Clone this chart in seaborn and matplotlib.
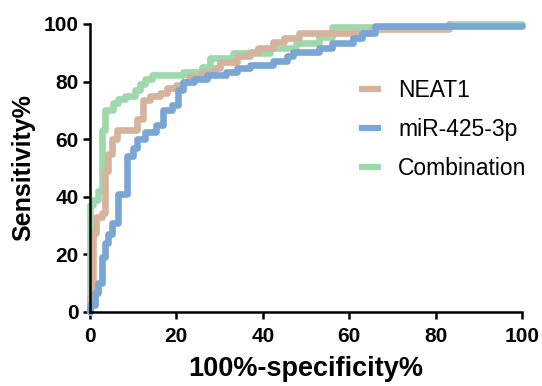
import pandas as pd
import matplotlib
matplotlib.use("Agg")
import matplotlib.pyplot as plt
import seaborn as sns

# ROC step vertices (steps-post): x = 100%-specificity%, y = sensitivity%
neat1_x = [0, 0, 0.8, 1.5, 2.7, 3.5, 4.2, 5, 6.2, 11, 12.3, 13.9, 16.2, 17.8, 20, 21.5,
           23, 26, 29, 30, 34, 37, 39, 42.3, 45, 48.5, 65, 83, 83]
neat1_y = [0, 5, 27.5, 33, 34.3, 49, 55, 60, 63, 67, 73.6, 75, 76, 77.7, 78.8, 80,
           81.7, 83.4, 84.7, 86.8, 89, 90.3, 91.6, 93.7, 95, 97, 98.2, 98.2, 100]

mir_x = [0, 0, 1.1, 1.9, 2.7, 3.5, 4.2, 5, 6.5, 8.5, 10, 11, 12.7, 15.4, 17, 19, 20.4,
         21.5, 24, 27, 31.6, 34, 37, 42.3, 45.5, 47, 53, 56, 61, 63, 66, 100]
mir_y = [0, 2.4, 6.5, 10, 19, 24, 27, 31, 41, 54, 57, 60, 62.5, 65, 70, 72, 77,
         80, 81, 82.3, 83.4, 84.7, 85.8, 87, 89, 90.3, 91.6, 93.4, 95, 96.9, 99.4, 99.4]

comb_x = [0, 0, 0.8, 1.9, 2.7, 3.5, 5.3, 6.5, 8, 10.4, 11.5, 12.7, 14.3, 21.5, 26, 27.7,
          33, 41.6, 47.8, 53, 56, 83, 100]
comb_y = [0, 37, 39, 42, 63, 70, 72.5, 74, 75, 77, 79, 81, 82.3, 83.4, 85, 88,
          90, 91.6, 93.4, 95.5, 98.8, 100, 100]

labels = ["NEAT1", "miR-425-3p", "Combination"]
colors = {"NEAT1": "#d5b39c", "miR-425-3p": "#7aa6d6", "Combination": "#9ed8ad"}

frames = []
for name, xs, ys in [("Combination", comb_x, comb_y), ("NEAT1", neat1_x, neat1_y),
                     ("miR-425-3p", mir_x, mir_y)]:
    frames.append(pd.DataFrame({"fpr": xs, "tpr": ys, "series": name}))
df = pd.concat(frames, ignore_index=True)

sns.set_style("ticks")
plt.rcParams["font.family"] = ["Liberation Sans", "DejaVu Sans"]
for key in ["text.color", "axes.labelcolor", "xtick.color", "ytick.color", "axes.edgecolor"]:
    plt.rcParams[key] = "black"

fig, ax = plt.subplots(figsize=(5.42, 3.86), dpi=100)
fig.subplots_adjust(left=0.166, right=0.963, bottom=0.192, top=0.938)

sns.lineplot(data=df, x="fpr", y="tpr", hue="series",
             hue_order=["Combination", "NEAT1", "miR-425-3p"],
             palette=colors, estimator=None, sort=False,
             drawstyle="steps-post", linewidth=4.8, ax=ax, clip_on=False)

ax.set_xlim(0, 100)
ax.set_ylim(0, 100)
ax.set_xticks(range(0, 101, 20))
ax.set_yticks(range(0, 101, 20))
sns.despine(ax=ax)
for side in ["left", "bottom"]:
    ax.spines[side].set_linewidth(1.8)
ax.tick_params(width=1.8, length=5, labelsize=15)
ax.tick_params(axis="x", pad=6)
ax.tick_params(axis="y", pad=3)
for lab in ax.get_xticklabels() + ax.get_yticklabels():
    lab.set_fontweight("bold")

ax.set_xlabel("100%-specificity%", fontsize=19.5, fontweight="bold", labelpad=7)
ax.set_ylabel("Sensitivity%", fontsize=18, fontweight="bold", labelpad=6)

handles, labs = ax.get_legend_handles_labels()
lookup = dict(zip(labs, handles))
leg = ax.legend([lookup[l] for l in labels], labels, frameon=False, fontsize=16.5,
                loc="upper left", bbox_to_anchor=(0.575, 0.88),
                handlelength=0.95, handletextpad=0.75, labelspacing=0.7)
for line in leg.get_lines():
    line.set_linewidth(4.5)
    line.set_solid_capstyle("butt")

fig.savefig("out.png", dpi=100)
